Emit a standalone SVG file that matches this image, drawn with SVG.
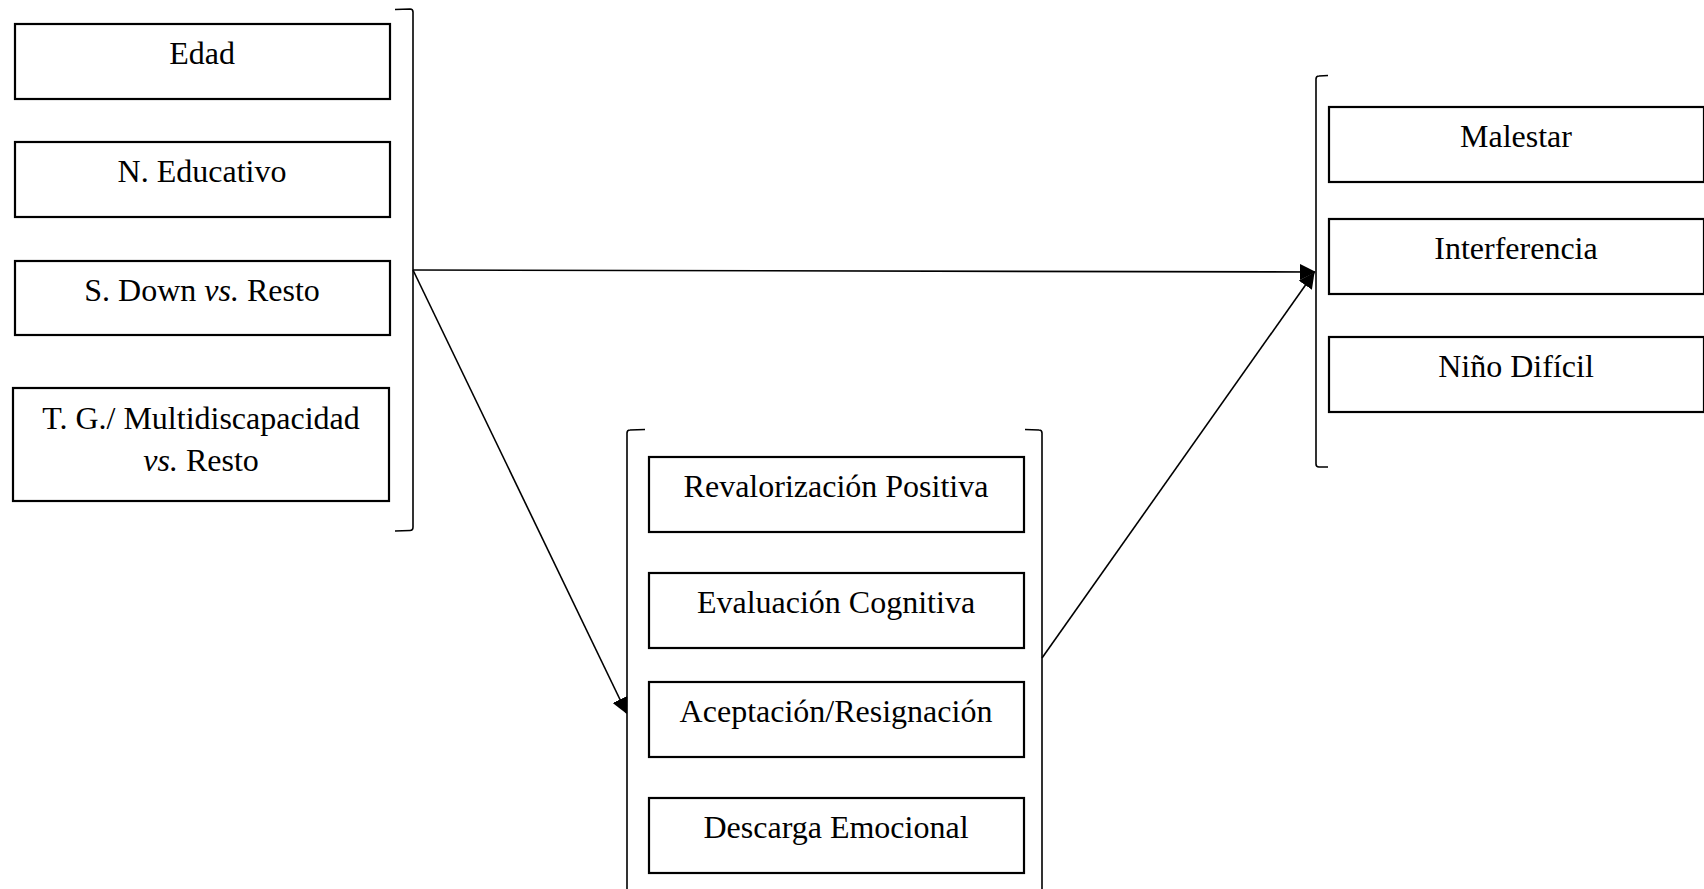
<svg xmlns="http://www.w3.org/2000/svg" width="1704" height="889" viewBox="0 0 1704 889">
  <style>
    .box { fill: #ffffff; stroke: #000000; stroke-width: 2.2; }
    .brk { fill: none; stroke: #000000; stroke-width: 1.6; }
    .lbl { font-family: "Liberation Serif", "Times New Roman", serif; font-size: 32px; fill: #000000; text-anchor: middle; }
    .edge { fill: none; stroke: #000000; stroke-width: 1.6; }
  </style>
  <defs>
    <marker id="arrow" viewBox="0 0 16 16" refX="15" refY="8" markerWidth="16" markerHeight="16" markerUnits="userSpaceOnUse" orient="auto">
      <path d="M0,0 L16,8 L0,16 Z" fill="#000000"/>
    </marker>
  </defs>
  <rect width="1704" height="889" fill="#ffffff"/>

  <!-- Predictors group -->
  <g id="predictores">
    <path class="brk" d="M395,9.5 L410,9 Q413,9 413,12 L413,527 Q413,530.5 410,530.5 L395,531"/>
    <g id="edad">
      <rect class="box" x="15" y="24" width="375" height="75"/>
      <text class="lbl" x="202" y="64">Edad</text>
    </g>
    <g id="nivel-educativo">
      <rect class="box" x="15" y="142" width="375" height="75"/>
      <text class="lbl" x="202" y="182">N. Educativo</text>
    </g>
    <g id="s-down">
      <rect class="box" x="15" y="261" width="375" height="74"/>
      <text class="lbl" x="202" y="301">S. Down <tspan font-style="italic">vs.</tspan> Resto</text>
    </g>
    <g id="tg-multidiscapacidad">
      <rect class="box" x="13" y="388" width="376" height="113"/>
      <text class="lbl" x="201" y="429">T. G./ Multidiscapacidad</text>
      <text class="lbl" x="201" y="471"><tspan font-style="italic">vs.</tspan> Resto</text>
    </g>
  </g>

  <!-- Coping strategies group -->
  <g id="afrontamiento">
    <path class="brk" d="M645,429.5 L630,430 Q627,430 627,433 L627,889"/>
    <path class="brk" d="M1025,429.5 L1039,430 Q1042,430 1042,433 L1042,889"/>
    <g id="revalorizacion">
      <rect class="box" x="649" y="457" width="375" height="75"/>
      <text class="lbl" x="836" y="497">Revalorización Positiva</text>
    </g>
    <g id="evaluacion">
      <rect class="box" x="649" y="573" width="375" height="75"/>
      <text class="lbl" x="836" y="613">Evaluación Cognitiva</text>
    </g>
    <g id="aceptacion">
      <rect class="box" x="649" y="682" width="375" height="75"/>
      <text class="lbl" x="836" y="722">Aceptación/Resignación</text>
    </g>
    <g id="descarga">
      <rect class="box" x="649" y="798" width="375" height="75"/>
      <text class="lbl" x="836" y="838">Descarga Emocional</text>
    </g>
  </g>

  <!-- Outcomes group -->
  <g id="estres">
    <path class="brk" d="M1328,75.5 L1319,76 Q1316,76 1316,79 L1316,464 Q1316,467 1319,467 L1328,467"/>
    <g id="malestar">
      <rect class="box" x="1329" y="107" width="375" height="75"/>
      <text class="lbl" x="1516" y="147">Malestar</text>
    </g>
    <g id="interferencia">
      <rect class="box" x="1329" y="219" width="375" height="75"/>
      <text class="lbl" x="1516" y="259">Interferencia</text>
    </g>
    <g id="nino-dificil">
      <rect class="box" x="1329" y="337" width="375" height="75"/>
      <text class="lbl" x="1516" y="377">Niño Difícil</text>
    </g>
  </g>

  <!-- Connectors -->
  <g id="connectors">
    <line class="edge" x1="413" y1="270" x2="1315" y2="272" marker-end="url(#arrow)"/>
    <line class="edge" x1="413" y1="270" x2="626.5" y2="713" marker-end="url(#arrow)"/>
    <line class="edge" x1="1042" y1="658" x2="1314" y2="273" marker-end="url(#arrow)"/>
  </g>
</svg>
